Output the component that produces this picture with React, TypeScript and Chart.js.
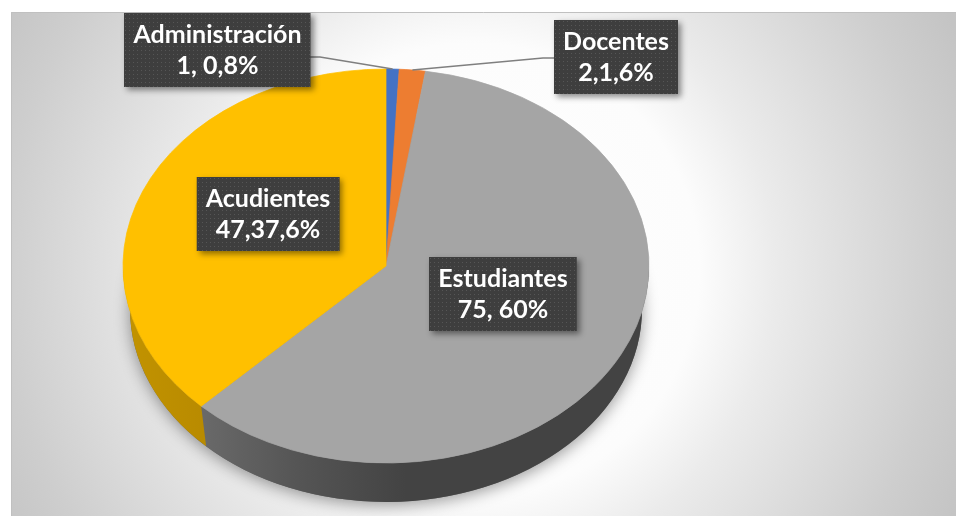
import React, { useEffect, useRef } from "react";
import { Chart, registerables } from "chart.js";

Chart.register(...registerables);

// ---- data ----
const categories = ["Administración", "Docentes", "Estudiantes", "Acudientes"];
const counts = [1, 2, 75, 47];
const valueLabels = ["1, 0,8%", "2,1,6%", "75, 60%", "47,37,6%"];
const topColors = ["#4472C4", "#ED7D31", "#A5A5A5", "#FFC000"];
const sideColors = ["#2F5597", "#C55A11", "#444444", "#BF9000"];

// ---- layout (canvas coordinates) ----
const W = 945;
const H = 504;
const CX = 375;
const CY = 254;
const RX = 263;
const RY = 197;
const DEPTH = 43;
const BRX = 256;
const BRY = 193;
const FONT = "bold 25px Lato, 'Open Sans', sans-serif";
const BOX_H = 74;
const BOX_PAD = 9;
const labelLayout = [
  { cx: 206.5, top: 1, leader: [[299, 45], [309, 45]] },
  { cx: 605, top: 8, leader: [[545, 46], [532, 46]] },
  { cx: 492, top: 245, leader: null },
  { cx: 257, top: 165, leader: null },
];

function makeDotPattern(ctx: CanvasRenderingContext2D) {
  const c = document.createElement("canvas");
  c.width = 4;
  c.height = 4;
  const p = c.getContext("2d")!;
  p.fillStyle = "#3e3e3e";
  p.fillRect(0, 0, 4, 4);
  p.fillStyle = "#565656";
  p.fillRect(1, 1, 1, 1);
  return ctx.createPattern(c, "repeat")!;
}

const pie3d = {
  id: "pie3d",
  beforeDraw(chart: any) {
    const ctx: CanvasRenderingContext2D = chart.ctx;
    ctx.save();
    const g = ctx.createRadialGradient(462, 258, 0, 462, 258, 540);
    g.addColorStop(0, "#ffffff");
    g.addColorStop(0.42, "#fcfcfc");
    g.addColorStop(0.56, "#ebebeb");
    g.addColorStop(0.72, "#dcdcdc");
    g.addColorStop(0.87, "#cecece");
    g.addColorStop(1, "#c4c4c4");
    ctx.fillStyle = g;
    ctx.fillRect(0, 0, W, H);
    ctx.strokeStyle = "#c0c0c0";
    ctx.lineWidth = 1;
    ctx.beginPath();
    ctx.moveTo(0.5, H);
    ctx.lineTo(0.5, 0.5);
    ctx.lineTo(W, 0.5);
    ctx.stroke();
    ctx.restore();
  },
  beforeDatasetsDraw(chart: any) {
    const ctx: CanvasRenderingContext2D = chart.ctx;
    const arcs = chart.getDatasetMeta(0).data;
    // soft shadow under the pie
    ctx.save();
    ctx.shadowColor = "rgba(0,0,0,0.4)";
    ctx.shadowBlur = 16;
    ctx.shadowOffsetY = 3;
    ctx.fillStyle = "#666";
    ctx.beginPath();
    ctx.ellipse(CX, CY + DEPTH, BRX, BRY, 0, 0, Math.PI * 2);
    ctx.fill();
    ctx.restore();
    // sides
    arcs.forEach((arc: any, i: number) => {
      const a0 = Math.max(arc.startAngle, 0);
      const a1 = Math.min(arc.endAngle, Math.PI);
      if (a1 <= a0) return;
      ctx.save();
      let fill: any = sideColors[i];
      if (i === 2) {
        const lg = ctx.createLinearGradient(CX - RX * 0.75, 0, CX + 20, 0);
        lg.addColorStop(0, "#6c6c6c");
        lg.addColorStop(0.5, "#555555");
        lg.addColorStop(1, "#434343");
        fill = lg;
      } else if (i === 3) {
        const lg = ctx.createLinearGradient(CX - RX, 0, CX - RX * 0.7, 0);
        lg.addColorStop(0, "#c29300");
        lg.addColorStop(1, "#b98b00");
        fill = lg;
      }
      ctx.fillStyle = fill;
      ctx.beginPath();
      ctx.ellipse(CX, CY, RX, RY, 0, a0, a1, false);
      ctx.ellipse(CX, CY + DEPTH, BRX, BRY, 0, a1, a0, true);
      ctx.closePath();
      ctx.fill();
      ctx.restore();
    });
    // transform the library's circular pie into the elliptical top face
    const first = arcs[0];
    const R = first.outerRadius;
    ctx.save();
    ctx.translate(CX, CY);
    ctx.scale(RX / R, RY / R);
    ctx.translate(-first.x, -first.y);
  },
  afterDatasetsDraw(chart: any) {
    const ctx: CanvasRenderingContext2D = chart.ctx;
    ctx.restore();
    const arcs = chart.getDatasetMeta(0).data;
    const pattern = makeDotPattern(ctx);
    ctx.save();
    ctx.font = FONT;
    arcs.forEach((arc: any, i: number) => {
      const L = labelLayout[i];
      const lines = [categories[i], valueLabels[i]];
      const tw = Math.max(...lines.map((t) => ctx.measureText(t).width));
      const bw = tw + BOX_PAD * 2;
      const left = L.cx - bw / 2;
      if (L.leader) {
        const mid = (arc.startAngle + arc.endAngle) / 2;
        const px = CX + RX * Math.cos(mid);
        const py = CY + RY * Math.sin(mid);
        ctx.save();
        ctx.strokeStyle = "#7f7f7f";
        ctx.lineWidth = 1.5;
        ctx.beginPath();
        ctx.moveTo(L.leader[0][0], L.leader[0][1]);
        ctx.lineTo(L.leader[1][0], L.leader[1][1]);
        ctx.lineTo(px, py);
        ctx.stroke();
        ctx.restore();
      }
      ctx.save();
      ctx.shadowColor = "rgba(0,0,0,0.45)";
      ctx.shadowBlur = 6;
      ctx.shadowOffsetX = 3;
      ctx.shadowOffsetY = 3;
      ctx.fillStyle = "#3e3e3e";
      ctx.fillRect(left, L.top, bw, BOX_H);
      ctx.restore();
      ctx.save();
      ctx.translate(Math.round(left), L.top);
      ctx.fillStyle = pattern;
      ctx.fillRect(0, 0, bw, BOX_H);
      ctx.restore();
      ctx.fillStyle = "#ffffff";
      ctx.textAlign = "center";
      ctx.textBaseline = "middle";
      ctx.fillText(lines[0], L.cx, L.top + 22);
      ctx.fillText(lines[1], L.cx, L.top + 53);
    });
    ctx.restore();
  },
};

export default function App() {
  const ref = useRef<HTMLCanvasElement>(null);
  useEffect(() => {
    const chart = new Chart(ref.current!, {
      type: "pie",
      data: {
        labels: categories,
        datasets: [
          {
            data: counts,
            backgroundColor: topColors,
            borderColor: topColors,
            borderWidth: 0.8,
            hoverOffset: 0,
            clip: false as any,
          },
        ],
      },
      options: {
        responsive: false,
        animation: false,
        events: [],
        plugins: {
          legend: { display: false },
          tooltip: { enabled: false },
        },
      },
      plugins: [pie3d],
    });
    return () => chart.destroy();
  }, []);
  return (
    <div style={{ position: "absolute", left: 11, top: 12, width: W, height: H }}>
      <canvas ref={ref} width={W} height={H} style={{ display: "block", width: W, height: H }} />
    </div>
  );
}
